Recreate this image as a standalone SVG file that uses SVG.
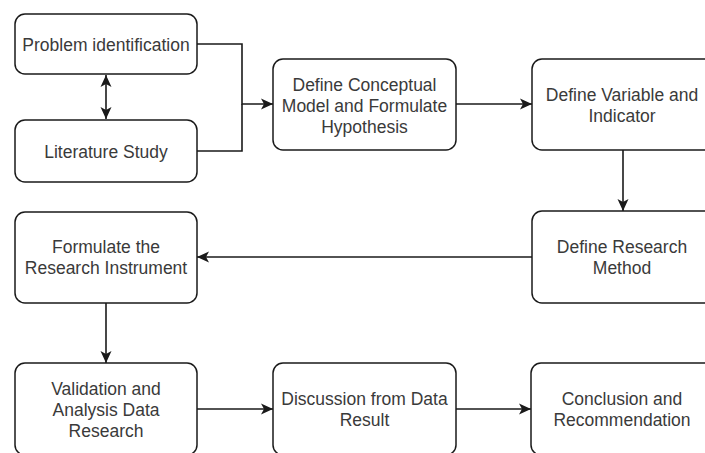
<svg xmlns="http://www.w3.org/2000/svg" width="705" height="453" viewBox="0 0 705 453">
<style>
.box{fill:#fff;stroke:#1a1a1a;stroke-width:1.5}
.t{font-family:"Liberation Sans",Arial,sans-serif;font-size:17.5px;fill:#3a3a3a;text-anchor:middle}
.c{fill:none;stroke:#1a1a1a;stroke-width:1.6}
</style>
<defs>
<marker id="ah" markerUnits="userSpaceOnUse" markerWidth="13" markerHeight="12" refX="12" refY="6" orient="auto-start-reverse" viewBox="0 0 13 12">
<path d="M0,0.5 L12,6 L0,11.5 L3,6 Z" fill="#1a1a1a"/>
</marker>
</defs>
<rect width="705" height="453" fill="#fff"/>
<g id="connectors">
<path class="c" d="M197,44 H242 V104 H273" marker-end="url(#ah)"/>
<path class="c" d="M197,151 H242 V104"/>
<path class="c" d="M106,75 V119" marker-start="url(#ah)" marker-end="url(#ah)"/>
<path class="c" d="M456,104 H532" marker-end="url(#ah)"/>
<path class="c" d="M623,150 V211" marker-end="url(#ah)"/>
<path class="c" d="M532,257 H197" marker-end="url(#ah)"/>
<path class="c" d="M106,303 V363" marker-end="url(#ah)"/>
<path class="c" d="M197,409 H273" marker-end="url(#ah)"/>
<path class="c" d="M456,409 H531" marker-end="url(#ah)"/>
</g>
<g id="problem-identification">
<rect class="box" x="15" y="14" width="182" height="60" rx="10"/>
<text class="t" x="106" y="50.5">Problem identification</text>
</g>
<g id="literature-study">
<rect class="box" x="15" y="120" width="182" height="62" rx="10"/>
<text class="t" x="106" y="157.5">Literature Study</text>
</g>
<g id="define-conceptual">
<rect class="box" x="273" y="59" width="183" height="91" rx="10"/>
<text class="t" x="364.5" y="91">Define Conceptual</text>
<text class="t" x="364.5" y="112">Model and Formulate</text>
<text class="t" x="364.5" y="133">Hypothesis</text>
</g>
<g id="define-variable">
<rect class="box" x="532" y="59" width="182" height="91" rx="10"/>
<text class="t" x="622" y="101">Define Variable and</text>
<text class="t" x="622" y="122">Indicator</text>
</g>
<g id="define-research-method">
<rect class="box" x="532" y="211" width="182" height="92" rx="10"/>
<text class="t" x="622" y="253">Define Research</text>
<text class="t" x="622" y="274">Method</text>
</g>
<g id="formulate-instrument">
<rect class="box" x="15" y="212" width="182" height="91" rx="10"/>
<text class="t" x="106" y="253">Formulate the</text>
<text class="t" x="106" y="274">Research Instrument</text>
</g>
<g id="validation">
<rect class="box" x="15" y="363" width="182" height="92" rx="10"/>
<text class="t" x="106" y="395">Validation and</text>
<text class="t" x="106" y="416">Analysis Data</text>
<text class="t" x="106" y="437">Research</text>
</g>
<g id="discussion">
<rect class="box" x="273" y="363" width="183" height="92" rx="10"/>
<text class="t" x="364.5" y="405">Discussion from Data</text>
<text class="t" x="364.5" y="426">Result</text>
</g>
<g id="conclusion">
<rect class="box" x="531" y="363" width="183" height="92" rx="10"/>
<text class="t" x="622" y="405">Conclusion and</text>
<text class="t" x="622" y="426">Recommendation</text>
</g>
</svg>
